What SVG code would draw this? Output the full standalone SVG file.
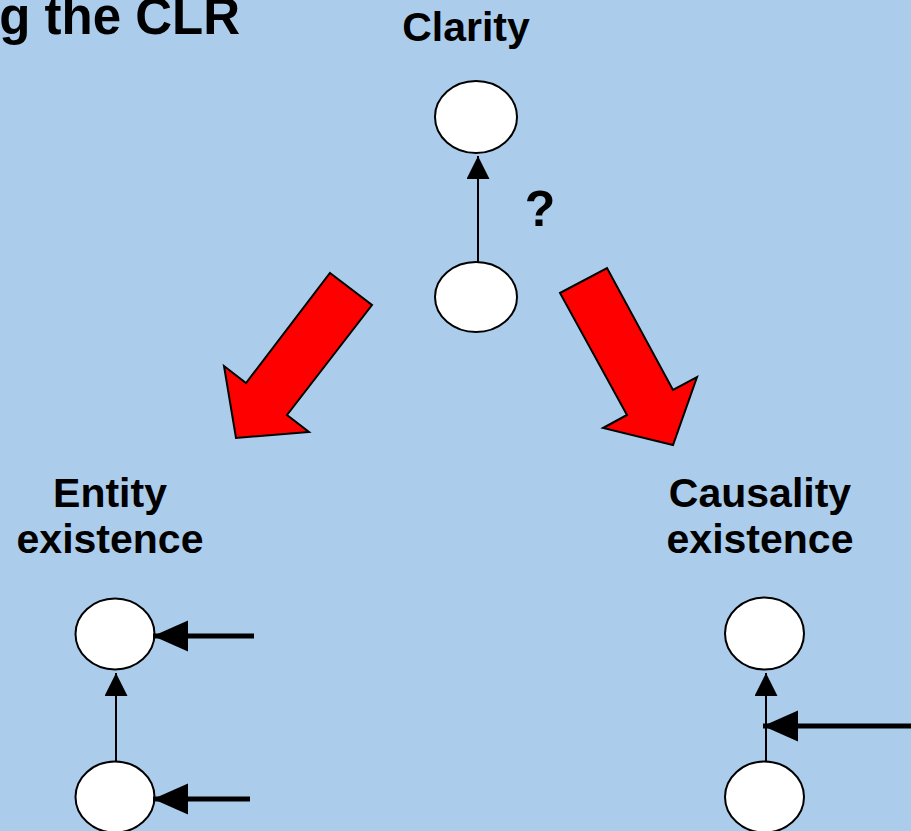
<svg xmlns="http://www.w3.org/2000/svg" width="911" height="831" viewBox="0 0 911 831">
  <style>
    .bg { fill: #ABCDEB; }
    .label { font-family: "Liberation Sans", Arial, sans-serif; font-weight: bold; font-size: 41px; fill: #000; text-anchor: middle; }
    .title { font-family: "Liberation Sans", Arial, sans-serif; font-weight: bold; font-size: 51px; fill: #000; text-anchor: end; }
    .node { fill: #FFFFFF; stroke: #000; stroke-width: 2; }
    .thin { stroke: #000; stroke-width: 2; fill: none; marker-end: url(#headThin); }
    .thick { stroke: #000; stroke-width: 5; fill: none; marker-end: url(#headThick); }
    .big { fill: #FF0000; stroke: #000; stroke-width: 2; stroke-linejoin: miter; }
  </style>
  <defs>
    <marker id="headThin" markerUnits="userSpaceOnUse" markerWidth="24" markerHeight="24" refX="23" refY="11.5" orient="auto" viewBox="0 0 24 24">
      <path d="M0,0 L23,11.5 L0,23 z" fill="#000"/>
    </marker>
    <marker id="headThick" markerUnits="userSpaceOnUse" markerWidth="36" markerHeight="32" refX="35" refY="15.5" orient="auto" viewBox="0 0 36 32">
      <path d="M0,0 L35,15.5 L0,31 z" fill="#000"/>
    </marker>
  </defs>

  <rect class="bg" x="0" y="0" width="911" height="831"/>

  <!-- heading, running in from the left edge -->
  <text class="title" x="240" y="34">g the CLR</text>

  <!-- section labels -->
  <g id="label-clarity"><text class="label" x="466" y="41">Clarity</text></g>
  <g id="label-entity">
    <text class="label" x="110" y="507">Entity</text>
    <text class="label" x="110" y="553">existence</text>
  </g>
  <g id="label-causality">
    <text class="label" x="760" y="507">Causality</text>
    <text class="label" x="760" y="553">existence</text>
  </g>
  <g id="label-question"><text class="label" x="540" y="226" style="font-size:50px">?</text></g>

  <!-- nodes -->
  <g id="clarity-top"><ellipse class="node" cx="476" cy="117" rx="41" ry="36"/></g>
  <g id="clarity-bottom"><ellipse class="node" cx="476" cy="297" rx="41" ry="35"/></g>
  <g id="entity-top"><ellipse class="node" cx="115" cy="634" rx="39.5" ry="35.5"/></g>
  <g id="entity-bottom"><ellipse class="node" cx="115" cy="797" rx="39.5" ry="35.5"/></g>
  <g id="causality-top"><ellipse class="node" cx="764.5" cy="633.5" rx="39.5" ry="36"/></g>
  <g id="causality-bottom"><ellipse class="node" cx="764.5" cy="797" rx="39.5" ry="35.5"/></g>

  <!-- connectors -->
  <g id="connectors">
    <line class="thin" x1="478" y1="262" x2="478" y2="156"/>
    <line class="thin" x1="116" y1="762" x2="116" y2="673"/>
    <line class="thin" x1="766" y1="762" x2="766" y2="673"/>
    <line class="thick" x1="254" y1="636" x2="153" y2="636"/>
    <line class="thick" x1="250" y1="799" x2="153" y2="799"/>
    <line class="thick" x1="911" y1="726" x2="763" y2="726"/>
  </g>

  <!-- block arrows branching from the clarity pair -->
  <g id="branch-left">
    <polygon class="big" points="330,273 372,305 287,415 309,432 236,438 224,366 246,383"/>
  </g>
  <g id="branch-right">
    <polygon class="big" points="560,293 607,268 673,390 697,377 673,445 603,428 627,415"/>
  </g>
</svg>
